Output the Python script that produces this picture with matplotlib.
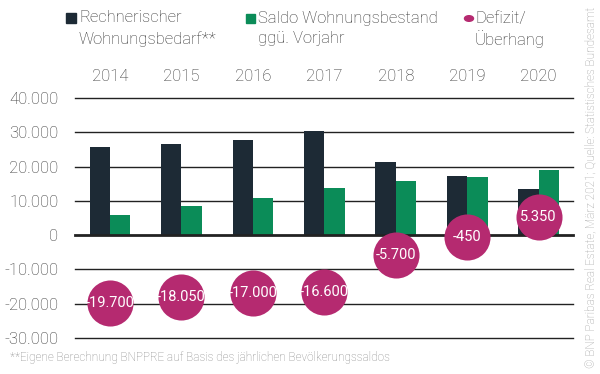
import matplotlib.pyplot as plt
import numpy as np

plt.rcParams["font.family"] = ["Roboto", "DejaVu Sans"]
plt.rcParams["font.weight"] = "light"

# Data
years = ["2014", "2015", "2016", "2017", "2018", "2019", "2020"]
bedarf = [25700, 26500, 27800, 30300, 21400, 17300, 13600]
saldo = [6000, 8450, 10800, 13700, 15700, 16850, 18950]
defizit = [-19700, -18050, -17000, -16600, -5700, -450, 5350]
defizit_labels = ["-19.700", "-18.050", "-17.000", "-16.600", "-5.700", "-450", "5.350"]
yticks = [40000, 30000, 20000, 10000, 0, -10000, -20000, -30000]
ytick_labels = ["40.000", "30.000", "20.000", "10.000", "0", "-10.000", "-20.000", "-30.000"]

DARK = "#1d2a35"
GREEN = "#0b8c58"
PINK = "#b52a70"
TXT = "#333333"

fig = plt.figure(figsize=(6, 3.74), dpi=100)
ax = fig.add_axes([75 / 600, 1 - 338 / 374, 498 / 600, 240 / 374])

x = np.arange(len(years))
w = 0.285
ax.bar(x - w / 2, bedarf, w, color=DARK, zorder=3)
ax.bar(x + w / 2, saldo, w, color=GREEN, zorder=3)

# gridlines
for t in yticks:
    ax.axhline(t, color="#222222", lw=2.0 if t == 0 else 1.0, zorder=4 if t == 0 else 1,
               clip_on=False)

ax.scatter(x, defizit, s=1100, color=PINK, zorder=5, clip_on=False, linewidths=0)
for xi, v, lab in zip(x, defizit, defizit_labels):
    ax.text(xi, v, lab, color="white", ha="center", va="center", fontsize=10.5,
            fontweight="normal", zorder=6)

ax.set_xlim(-0.49, 6.48)
ax.set_ylim(-30000, 40000)
ax.set_yticks(yticks)
ax.set_yticklabels(ytick_labels, fontsize=12, color=TXT)
ax.xaxis.tick_top()
ax.set_xticks(x)
ax.set_xticklabels(years, fontsize=12, color=TXT)
ax.tick_params(length=0)
ax.tick_params(axis="x", pad=10)
ax.tick_params(axis="y", pad=12)
for s in ax.spines.values():
    s.set_visible(False)

# legend
def legend_entry(tx, handle, line1, line2):
    fig.patches.append(handle)
    fig.text(tx / 600, 1 - 18 / 374, line1, fontsize=12, color=TXT, va="center")
    fig.text(tx / 600, 1 - 39 / 374, line2, fontsize=12, color=TXT, va="center")

legend_entry(79, plt.Rectangle((66 / 600, 1 - 23 / 374), 10 / 600, 10 / 374,
                               color=DARK, transform=fig.transFigure),
             "Rechnerischer", "Wohnungsbedarf**")
legend_entry(258, plt.Rectangle((246 / 600, 1 - 23 / 374), 9 / 600, 9 / 374,
                                color=GREEN, transform=fig.transFigure),
             "Saldo Wohnungsbestand", "ggü. Vorjahr")
legend_entry(475, plt.Circle((469 / 600, 1 - 18.5 / 374), 4.5 / 600,
                             color=PINK, transform=fig.transFigure),
             "Defizit/", "Überhang")

fig.text(10 / 600, 1 - 357 / 374,
         "**Eigene Berechnung BNPPRE auf Basis des jährlichen Bevölkerungssaldos",
         fontsize=8.5, color="#8a8a8a", va="center")
fig.text(591 / 600, 0.5,
         "© BNP Paribas Real Estate, März 2021; Quelle: Statistisches Bundesamt",
         fontsize=8.5, color="#a0a0a0", rotation=90, ha="center", va="center")

fig.savefig("out.png", dpi=100)
